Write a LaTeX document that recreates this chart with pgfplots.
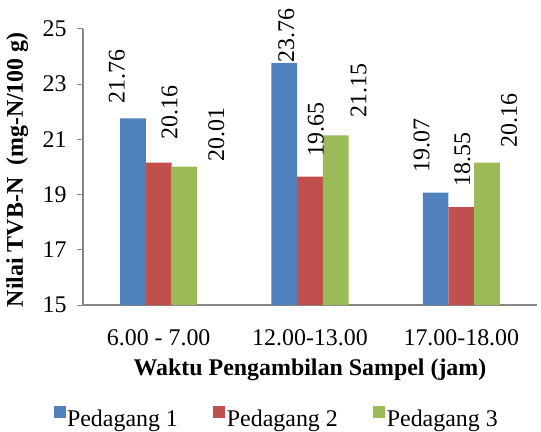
\documentclass[border=0pt]{standalone}
\usepackage{pgfplots}
\usepackage{pgfplotstable}
\pgfplotsset{compat=1.18}
\usepackage{fontspec}
\setmainfont{Liberation Serif}

\definecolor{pblue}{HTML}{4F81BD}
\definecolor{pred}{HTML}{C0504D}
\definecolor{pgreen}{HTML}{9BBB59}
\definecolor{axgray}{HTML}{868686}

\newcommand{\fs}{\fontsize{24}{28}\selectfont}

% x = category index, dx/dy = label offset (bp)
\pgfplotstableread{
x y dx dy
0 21.76 -16 15
1 23.76 2 1
2 19.07 -14 20
}\pedagangA
\pgfplotstableread{
x y dx dy
0 20.16 11 23
1 19.65 6 20
2 18.55 1 20
}\pedagangB
\pgfplotstableread{
x y dx dy
0 20.01 32 5
1 21.15 23 18
2 20.16 22 15
}\pedagangC

\begin{document}
\begin{tikzpicture}[font=\fs]
\begin{axis}[
    scale only axis,
    width=454bp, height=276bp,
    ybar=0pt,
    bar width=25.7bp,
    xmin=-0.5, xmax=2.5,
    ymin=15, ymax=25,
    ytick={15,17,19,21,23,25},
    xtick={0,1,2},
    xticklabels={6.00 - 7.00,12.00-13.00,17.00-18.00},
    major x tick style={draw=none},
    axis x line*=bottom,
    axis y line*=left,
    axis line style={draw=axgray, line width=1.2bp, -},
    y tick style={draw=axgray, line width=1bp},
    tick align=outside,
    major tick length=6bp,
    /pgf/number format/assume math mode=true,
    tick label style={font=\fs},
    xticklabel style={anchor=base, yshift=-34bp},
    yticklabel style={xshift=-7bp},
    xlabel={\bfseries Waktu Pengambilan Sampel (jam)},
    xlabel style={at={(axis description cs:0.5,-0.254)}, anchor=base},
    ylabel={\bfseries Nilai TVB-N\hspace{0.5em}(mg-N/100 g)},
    ylabel style={at={(axis description cs:-0.145,0.49)}, anchor=center},
    legend style={at={(axis description cs:0.426,-0.41)}, anchor=center,
        draw=none, fill=none, legend columns=-1,
        nodes={inner sep=1.5bp},
        /tikz/every even column/.append style={column sep=34bp}},
    legend image code/.code={\path[#1] (0bp,1bp) rectangle (12bp,13bp);},
    visualization depends on={\thisrow{dx} \as \dx},
    visualization depends on={\thisrow{dy} \as \dy},
    nodes near coords={\pgfmathprintnumber[fixed,fixed zerofill,precision=2]{\pgfplotspointmeta}},
    every node near coord/.append style={font=\fs, inner sep=0pt, anchor=west,
        xshift=\dx bp, yshift=\dy bp, rotate=90},
]
\addplot[fill=pblue, draw=none] table[x=x, y=y] {\pedagangA};
\addplot[fill=pred, draw=none] table[x=x, y=y] {\pedagangB};
\addplot[fill=pgreen, draw=none] table[x=x, y=y] {\pedagangC};
\legend{Pedagang 1,Pedagang 2,Pedagang 3}
\end{axis}
\pgfresetboundingbox
\path (current axis.south west) ++(-83bp,-127bp) coordinate (bbA);
\path (current axis.north east) ++(4bp,29bp) coordinate (bbB);
\path[use as bounding box] (bbA) rectangle (bbB);
\end{tikzpicture}
\end{document}
